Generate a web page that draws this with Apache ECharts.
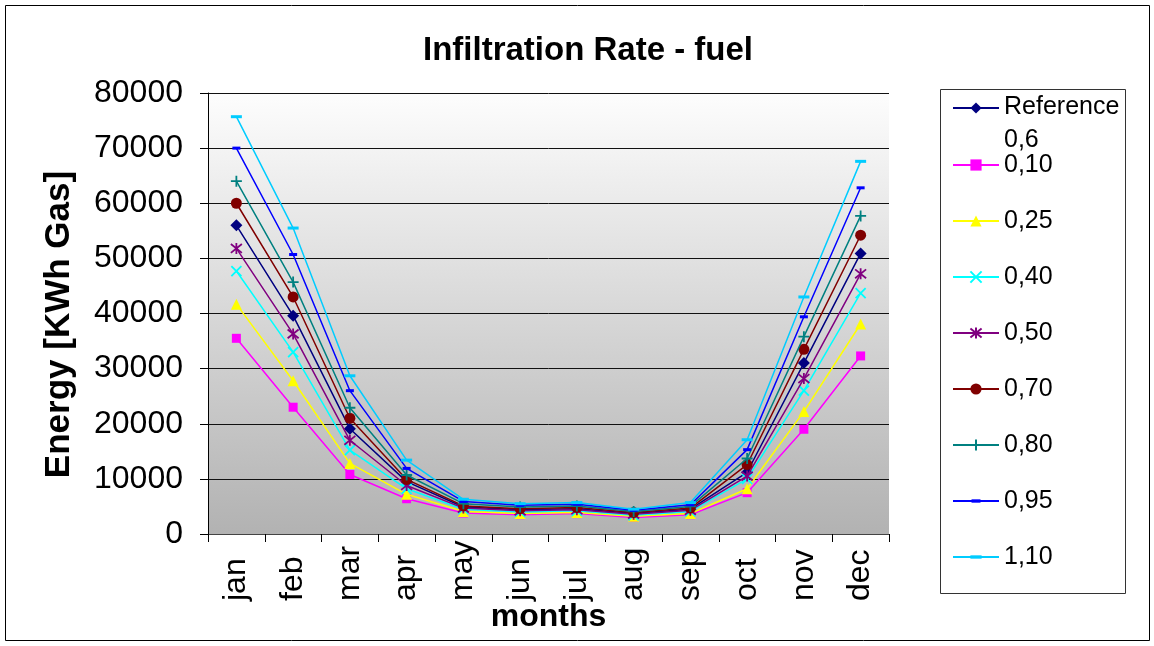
<!DOCTYPE html>
<html>
<head>
<meta charset="utf-8">
<script src="https://cdn.jsdelivr.net/npm/echarts@6/dist/echarts.min.js"></script>
<style>
  html, body { margin: 0; padding: 0; background: #ffffff; }
  #chart { width: 1154px; height: 646px; }
</style>
</head>
<body>
<div id="chart"></div>
<script>
// Monthly gas energy use for different infiltration rates
const months = ['jan', 'feb', 'mar', 'apr', 'may', 'jun', 'jul', 'aug', 'sep', 'oct', 'nov', 'dec'];
const yTicks = [0, 10000, 20000, 30000, 40000, 50000, 60000, 70000, 80000];

const rateRef = [56000, 39600, 19100, 9500, 4900, 4400, 4600, 3700, 4500, 11200, 31000, 50900];
const rate010 = [35500, 23000, 10800, 6400, 3800, 3500, 3700, 3000, 3500, 7500, 19000, 32300];
const rate025 = [41700, 27800, 12800, 7200, 4100, 3700, 3900, 3200, 3700, 8200, 22200, 38100];
const rate040 = [47700, 33000, 15200, 8200, 4500, 4000, 4200, 3400, 4100, 10000, 26000, 43700];
const rate050 = [51800, 36300, 17000, 8800, 4700, 4200, 4400, 3600, 4300, 10500, 28200, 47200];
const rate070 = [60000, 43000, 21000, 9900, 5100, 4600, 4800, 3900, 4700, 12600, 33500, 54200];
const rate080 = [64000, 45700, 22900, 10700, 5500, 4900, 5100, 4100, 5000, 13700, 35800, 57700];
const rate095 = [70000, 50700, 26000, 11900, 5900, 5200, 5400, 4300, 5300, 15300, 39400, 62800];
const rate110 = [75700, 55500, 28700, 13400, 6300, 5500, 5700, 4500, 5700, 17100, 43000, 67600];

const seriesNames = ['Reference 0,6', '0,10', '0,25', '0,40', '0,50', '0,70', '0,80', '0,95', '1,10'];

const FONT = 'Liberation Sans, Arial, sans-serif';

// marker shapes
const SYM_X = 'path://M0,0L10,10M10,0L0,10';
const SYM_STAR = 'path://M1,1L9,9M9,1L1,9M5,0L5,10';
const SYM_PLUS = 'path://M5,0L5,10M0,5L10,5';
const SYM_DASH_S = 'path://M0,0M1,3.5h8v3h-8zM10,10';
const SYM_DASH_L = 'path://M0,0M0,3.5h11v3h-11zM11,10';

const styles = [
  { data: rateRef, color: '#000080', symbol: 'diamond', size: 12, stroke: false },
  { data: rate010, color: '#ff00ff', symbol: 'rect', size: 9, stroke: false },
  { data: rate025, color: '#ffff00', symbol: 'triangle', size: 11, stroke: false },
  { data: rate040, color: '#00ffff', symbol: SYM_X, size: 10, stroke: true },
  { data: rate050, color: '#800080', symbol: SYM_STAR, size: 11, stroke: true },
  { data: rate070, color: '#800000', symbol: 'circle', size: 11, stroke: false },
  { data: rate080, color: '#008080', symbol: SYM_PLUS, size: 11, stroke: true },
  { data: rate095, color: '#0000ff', symbol: SYM_DASH_S, size: 10, stroke: false },
  { data: rate110, color: '#00ccff', symbol: SYM_DASH_L, size: [11, 10], stroke: false }
];

const series = styles.map((s, i) => ({
  name: seriesNames[i],
  type: 'line',
  data: s.data,
  symbol: s.symbol,
  symbolSize: s.size,
  showAllSymbol: true,
  lineStyle: { color: s.color, width: 1.5 },
  itemStyle: s.stroke
    ? { color: s.color, borderColor: s.color, borderWidth: 1.8 }
    : { color: s.color, borderWidth: 0 },
  emphasis: { disabled: true },
  z: 3 + i
}));

const chart = echarts.init(document.getElementById('chart'), null, { renderer: 'canvas' });

chart.setOption({
  animation: false,
  backgroundColor: '#ffffff',
  title: {
    text: 'Infiltration Rate - fuel',
    left: 583,
    top: 29,
    textAlign: 'center',
    textStyle: { fontFamily: FONT, fontSize: 33, fontWeight: 'bold', color: '#000' }
  },
  grid: {
    left: 208, right: 265, top: 93, bottom: 112,
    containLabel: false,
    outerBoundsMode: 'none',
    show: true,
    borderWidth: 0,
    backgroundColor: {
      type: 'linear', x: 0, y: 0, x2: 0, y2: 1,
      colorStops: [
        { offset: 0, color: '#fdfdfd' },
        { offset: 1, color: '#b2b2b2' }
      ]
    }
  },
  legend: [
    {
      data: [seriesNames[0]],
      orient: 'vertical',
      left: 952,
      top: 95,
      padding: 0,
      itemWidth: 46,
      itemHeight: 14,
      selectedMode: false,
      formatter: () => '{a|Reference}\n{b|0,6}',
      textStyle: {
        fontFamily: FONT, fontSize: 25, color: '#000',
        rich: {
          a: { fontFamily: FONT, fontSize: 25, color: '#000', lineHeight: 64 },
          b: { fontFamily: FONT, fontSize: 25, color: '#000', lineHeight: 1 }
        }
      }
    },
    {
      data: seriesNames.slice(1),
      orient: 'vertical',
      left: 952,
      top: 151,
      padding: 0,
      itemGap: 28,
      itemWidth: 46,
      itemHeight: 14,
      selectedMode: false,
      textStyle: { fontFamily: FONT, fontSize: 25, color: '#000', lineHeight: 28 }
    }
  ],
  xAxis: {
    type: 'category',
    data: months,
    boundaryGap: true,
    name: 'months',
    nameLocation: 'middle',
    nameGap: 67,
    nameMoveOverlap: false,
    nameTextStyle: { fontFamily: FONT, fontSize: 32, fontWeight: 'bold', color: '#000' },
    axisLine: { show: true, lineStyle: { color: '#444', width: 1 } },
    axisTick: { show: true, length: 8, lineStyle: { color: '#000' } },
    axisLabel: {
      interval: 0, rotate: 90, margin: 67, align: 'left',
      fontFamily: FONT, fontSize: 32, color: '#000'
    },
    splitLine: { show: false }
  },
  yAxis: {
    type: 'value',
    min: yTicks[0],
    max: yTicks[yTicks.length - 1],
    interval: yTicks[1] - yTicks[0],
    name: 'Energy [KWh Gas]',
    nameLocation: 'middle',
    nameGap: 131,
    nameMoveOverlap: false,
    nameTextStyle: {
      fontFamily: FONT, fontSize: 35, fontWeight: 'bold', color: '#000',
      padding: [0, 22, 0, 0]
    },
    axisLine: { show: true, lineStyle: { color: '#000', width: 1 } },
    axisTick: { show: true, length: 8, lineStyle: { color: '#000' } },
    axisLabel: {
      margin: 25, fontFamily: FONT, fontSize: 32, color: '#000',
      formatter: (v) => String(v)
    },
    splitLine: { show: true, lineStyle: { color: '#111', width: 1 } }
  },
  graphic: [
    {
      type: 'rect', z: 0, silent: true,
      shape: { x: 5.5, y: 5.5, width: 1144, height: 635 },
      style: { fill: 'none', stroke: '#000', lineWidth: 1 }
    },
    {
      type: 'rect', z: 0, silent: true,
      shape: { x: 940.5, y: 89.5, width: 185, height: 504 },
      style: { fill: '#fff', stroke: '#333', lineWidth: 1 }
    }
  ],
  series: series
});
</script>
</body>
</html>
